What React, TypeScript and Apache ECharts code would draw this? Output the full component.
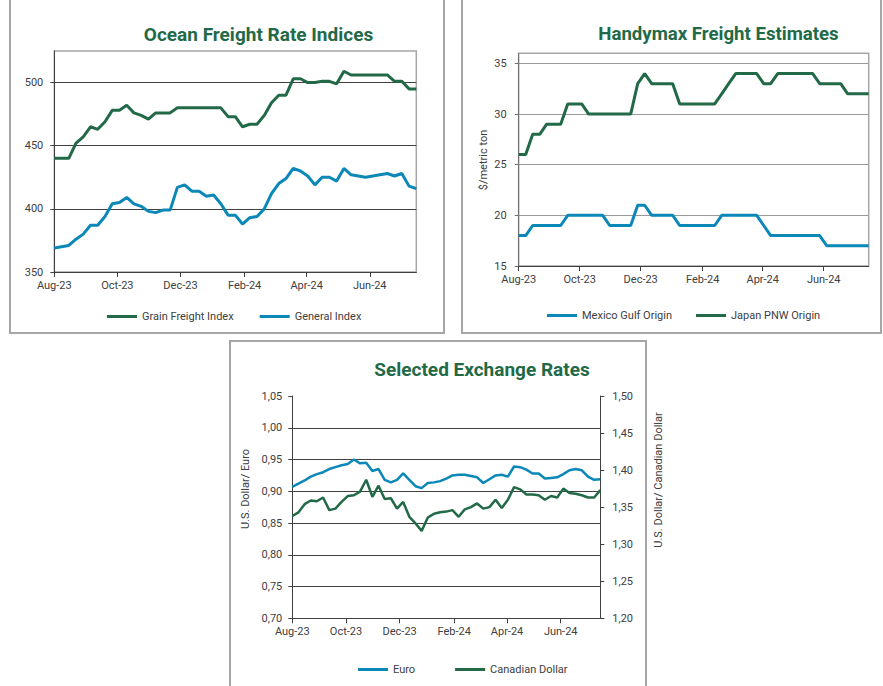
import React, { useEffect, useRef } from "react";
import * as echarts from "echarts";

// ---- Data (weekly observations, first week = Aug-23) ----
const grainFreight = [440,440,440,452,457,465,463,469,478,478,482,476,474,471,476,476,476,480,480,480,480,480,480,480,473,473,465,467,467,474,484,490,490,503,503,500,500,501,501,499,509,506,506,506,506,506,506,501,501,495,495];
const generalIndex = [369,370,371,376,380,387,387,394,404,405,409,404,402,398,397,399,399,417,419,414,414,410,411,404,395,395,388,393,394,400,412,420,424,432,430,426,419,425,425,422,432,427,426,425,426,427,428,426,428,418,416];
const mexicoGulf = [18,18,19,19,19,19,19,20,20,20,20,20,20,19,19,19,19,21,21,20,20,20,20,19,19,19,19,19,19,20,20,20,20,20,20,19,18,18,18,18,18,18,18,18,17,17,17,17,17,17,17];
const japanPNW = [26,26,28,28,29,29,29,31,31,31,30,30,30,30,30,30,30,33,34,33,33,33,33,31,31,31,31,31,31,32,33,34,34,34,34,33,33,34,34,34,34,34,34,33,33,33,33,32,32,32,32];
const euro = [0.907,0.912,0.917,0.923,0.927,0.930,0.935,0.938,0.941,0.943,0.950,0.944,0.945,0.932,0.935,0.918,0.914,0.918,0.928,0.918,0.908,0.905,0.913,0.914,0.916,0.920,0.925,0.926,0.926,0.924,0.922,0.913,0.919,0.925,0.926,0.923,0.939,0.938,0.934,0.928,0.928,0.920,0.921,0.922,0.927,0.933,0.935,0.933,0.923,0.918,0.919];
const cad = [1.338,1.343,1.354,1.359,1.358,1.363,1.346,1.348,1.357,1.365,1.366,1.371,1.387,1.364,1.379,1.361,1.362,1.348,1.357,1.337,1.328,1.318,1.336,1.341,1.343,1.344,1.346,1.337,1.347,1.350,1.355,1.348,1.350,1.360,1.349,1.360,1.377,1.374,1.367,1.367,1.366,1.360,1.365,1.363,1.375,1.369,1.368,1.366,1.363,1.363,1.373];

const startDate = "2023-08-01";
const tickDates = ["2023-08-01", "2023-10-01", "2023-12-01", "2024-02-01", "2024-04-01", "2024-06-01"];
const tickLabels = ["Aug-23", "Oct-23", "Dec-23", "Feb-24", "Apr-24", "Jun-24"];
const freightTicks = [350, 400, 450, 500];
const handyTicks = [15, 20, 25, 30, 35];

const DAY = 86400000;
const dayOf = (s: string) => (Date.parse(s) - Date.parse(startDate)) / DAY;
const tickDays = tickDates.map(dayOf);
const weekX = (i: number) => i * 7;
const toPts = (arr: number[]) => arr.map((v, i) => [weekX(i), v]);

const GREEN = "#226a47";
const BLUE = "#0b87b8";
const DARK = "#404040";
const GRAY = "#a6a6a6";
const FONT = "Roboto";

const xLabel = (v: number) => {
  const idx = tickDays.findIndex((d) => Math.abs(d - v) < 0.5);
  return idx >= 0 ? tickLabels[idx] : "";
};
const comma = (v: number) => v.toFixed(2).replace(".", ",");

function makeX(gridIndex: number) {
  return {
    type: "value",
    gridIndex,
    min: 0,
    max: 350,
    axisLine: { show: true, onZero: false, lineStyle: { color: DARK, width: 1 } },
    axisTick: { show: true, customValues: tickDays, length: 5, lineStyle: { color: DARK } },
    axisLabel: { customValues: tickDays, formatter: xLabel, color: DARK, fontSize: 11, fontFamily: FONT, margin: 8 },
    splitLine: { show: false },
  };
}

export default function App() {
  const ref = useRef<HTMLDivElement>(null);
  useEffect(() => {
    if (!ref.current) return;
    const chart = echarts.init(ref.current, undefined, { renderer: "svg" });
    const titleStyle = (text: string) => ({
      text,
      x: 0,
      y: 0,
      align: "center",
      verticalAlign: "middle",
      textAlign: "center",
      textVerticalAlign: "middle",
      fontFamily: FONT,
      fontWeight: "bold",
      fontSize: 19,
      fill: GREEN,
    });
    const nameStyle = (text: string) => ({
      text,
      x: 0,
      y: 0,
      align: "center",
      verticalAlign: "middle",
      textAlign: "center",
      textVerticalAlign: "middle",
      fontFamily: FONT,
      fontSize: 11,
      fill: DARK,
    });
    const legendBase = {
      orient: "horizontal",
      icon: "rect",
      itemWidth: 30,
      itemHeight: 3,
      textStyle: { color: DARK, fontSize: 11, fontFamily: FONT },
      selectedMode: false,
    };
    const line = (name: string, data: number[], color: string, xi: number, yi: number, w: number) => ({
      type: "line",
      name,
      xAxisIndex: xi,
      yAxisIndex: yi,
      data: toPts(data),
      showSymbol: false,
      symbol: "none",
      lineStyle: { color, width: w },
      itemStyle: { color },
      emphasis: { disabled: true },
    });
    chart.setOption({
      animation: false,
      backgroundColor: "#ffffff",
      grid: [
        { left: 54.3, top: 51, width: 362, height: 221, show: true, borderColor: GRAY, borderWidth: 1.5, backgroundColor: "transparent" },
        { left: 518.7, top: 53.3, width: 350, height: 212.7, show: true, borderColor: GRAY, borderWidth: 1.5, backgroundColor: "transparent" },
        { left: 292.3, top: 396, width: 308, height: 222.3 },
      ],
      xAxis: [makeX(0), makeX(1), makeX(2)],
      yAxis: [
        {
          type: "value",
          gridIndex: 0,
          min: 350,
          max: 525,
          axisLine: { show: true, onZero: false, lineStyle: { color: DARK } },
          axisTick: { show: true, customValues: freightTicks, length: 4, lineStyle: { color: DARK } },
          axisLabel: { customValues: freightTicks, color: DARK, fontSize: 11, fontFamily: FONT, margin: 11 },
          splitLine: { show: true, lineStyle: { color: [DARK, DARK, DARK, DARK, GRAY], width: 1 } },
        },
        {
          type: "value",
          gridIndex: 1,
          min: 15,
          max: 36,
          axisLine: { show: true, onZero: false, lineStyle: { color: "#707070" } },
          axisTick: { show: true, customValues: handyTicks, length: 4, lineStyle: { color: "#707070" } },
          axisLabel: { customValues: handyTicks, color: DARK, fontSize: 11, fontFamily: FONT, margin: 12 },
          splitLine: { show: true, lineStyle: { color: "#9a9a9a", width: 1 } },
        },
        {
          type: "value",
          gridIndex: 2,
          min: 0.7,
          max: 1.05,
          interval: 0.05,
          axisLine: { show: true, onZero: false, lineStyle: { color: DARK } },
          axisTick: { show: true, length: 4, lineStyle: { color: DARK } },
          axisLabel: { formatter: comma, color: DARK, fontSize: 11, fontFamily: FONT, margin: 10 },
          splitLine: {
            show: true,
            showMaxLine: false,
            lineStyle: { color: [DARK, DARK, DARK, DARK, DARK, DARK, DARK, "transparent"], width: 1 },
          },
        },
        {
          type: "value",
          gridIndex: 2,
          position: "right",
          min: 1.2,
          max: 1.5,
          interval: 0.05,
          axisLine: { show: true, onZero: false, lineStyle: { color: DARK } },
          axisTick: { show: true, length: 4, lineStyle: { color: DARK } },
          axisLabel: { formatter: comma, color: DARK, fontSize: 11, fontFamily: FONT, margin: 12 },
          splitLine: { show: false },
        },
      ],
      legend: [
        { ...legendBase, left: 102, top: 306, itemGap: 26, data: ["Grain Freight Index", "General Index"] },
        { ...legendBase, left: 542, top: 305, itemGap: 24, data: ["Mexico Gulf Origin", "Japan PNW Origin"] },
        { ...legendBase, left: 353, top: 659, itemGap: 40, data: ["Euro", "Canadian Dollar"] },
      ],
      graphic: [
        { type: "rect", z: -10, shape: { x: 10, y: -5, width: 434, height: 338 }, style: { fill: "none", stroke: GRAY, lineWidth: 2 } },
        { type: "rect", z: -10, shape: { x: 462, y: -5, width: 419, height: 338 }, style: { fill: "none", stroke: GRAY, lineWidth: 2 } },
        { type: "rect", z: -10, shape: { x: 230, y: 341, width: 416, height: 360 }, style: { fill: "none", stroke: GRAY, lineWidth: 2 } },
        { type: "text", x: 258.5, y: 34, style: titleStyle("Ocean Freight Rate Indices") },
        { type: "text", x: 718.5, y: 34, scaleX: 0.98, style: titleStyle("Handymax Freight Estimates") },
        { type: "text", x: 482, y: 369, style: titleStyle("Selected Exchange Rates") },
        { type: "text", x: 483, y: 160, rotation: Math.PI / 2, style: nameStyle("$/metric ton") },
        { type: "text", x: 245, y: 489, rotation: Math.PI / 2, style: nameStyle("U.S. Dollar/ Euro") },
        { type: "text", x: 658, y: 480, rotation: Math.PI / 2, style: nameStyle("U.S. Dollar/ Canadian Dollar") },
      ],
      series: [
        line("Grain Freight Index", grainFreight, GREEN, 0, 0, 3),
        line("General Index", generalIndex, BLUE, 0, 0, 3),
        line("Mexico Gulf Origin", mexicoGulf, BLUE, 1, 1, 3),
        line("Japan PNW Origin", japanPNW, GREEN, 1, 1, 3),
        line("Euro", euro, BLUE, 2, 2, 2.5),
        line("Canadian Dollar", cad, GREEN, 2, 3, 2.5),
      ],
    });
    return () => chart.dispose();
  }, []);
  return <div ref={ref} style={{ position: "absolute", left: 0, top: 0, width: 883, height: 686 }} />;
}
